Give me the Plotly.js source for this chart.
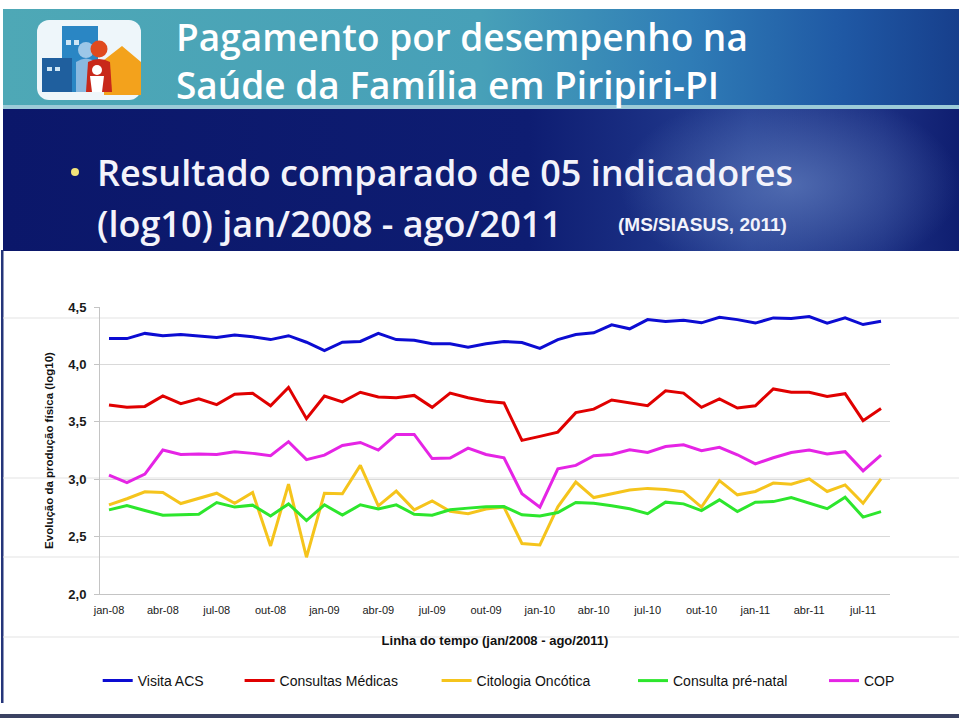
<!DOCTYPE html>
<html><head><meta charset="utf-8">
<script src="https://cdn.plot.ly/plotly-3.0.1.min.js"></script>
<style>
html,body{margin:0;padding:0;background:#fff;}
#wrap{position:relative;width:959px;height:718px;overflow:hidden;background:#fff;}
#bg{position:absolute;left:0;top:0;}
#chart{position:absolute;left:0;top:0;width:959px;height:718px;}
</style></head><body>
<div id="wrap">
<svg id="bg" width="959" height="718" xmlns="http://www.w3.org/2000/svg">
 <defs>
  <linearGradient id="gTop" x1="0" x2="1" y1="0" y2="0">
   <stop offset="0" stop-color="#4ea8b6"/>
   <stop offset="0.5" stop-color="#47a0b8"/>
   <stop offset="0.72" stop-color="#2f7cb6"/>
   <stop offset="0.88" stop-color="#1f58a4"/>
   <stop offset="1" stop-color="#173f8c"/>
  </linearGradient>
  <linearGradient id="gNavy" x1="0" x2="1" y1="0" y2="0">
   <stop offset="0" stop-color="#0b176a"/>
   <stop offset="0.55" stop-color="#0e1d72"/>
   <stop offset="0.78" stop-color="#253f92"/>
   <stop offset="0.92" stop-color="#1b2f82"/>
   <stop offset="1" stop-color="#0f1e70"/>
  </linearGradient>
  <radialGradient id="glow" cx="0.5" cy="0.5" r="0.5">
   <stop offset="0" stop-color="#5a76b8" stop-opacity="0.8"/>
   <stop offset="1" stop-color="#5a76b8" stop-opacity="0"/>
  </radialGradient>
  <clipPath id="navyClip"><rect x="3" y="109" width="956" height="142"/></clipPath>
 </defs>
 <rect x="3" y="9" width="956" height="97" fill="url(#gTop)"/>
 <rect x="3" y="105" width="956" height="4" fill="#9ccbd8"/>
 <rect x="3" y="109" width="956" height="142" fill="url(#gNavy)"/>
 <g clip-path="url(#navyClip)">
  <ellipse cx="790" cy="185" rx="170" ry="95" fill="url(#glow)"/>
 </g>
 <rect x="1" y="250" width="2.5" height="453" fill="#25357a"/>
 <rect x="0" y="714" width="959" height="4" fill="#3b4262"/>
 <!-- logo -->
 <rect x="37" y="20" width="104" height="80" rx="12" fill="#eef6fa"/>
 <rect x="62" y="26" width="36" height="66" fill="#2a86c4"/>
 <rect x="42" y="58" width="30" height="34" fill="#1f5f9e"/>
 <rect x="66" y="40" width="5" height="5" fill="#cfe6f5"/><rect x="74" y="40" width="5" height="5" fill="#cfe6f5"/>
 <rect x="47" y="67" width="5" height="4" fill="#cfe6f5"/><rect x="55" y="67" width="5" height="4" fill="#cfe6f5"/>
 <circle cx="86" cy="50" r="8" fill="#9cc7e8"/>
 <path d="M76 62 Q86 55 96 62 L96 92 L76 92 Z" fill="#8ab9e0"/>
 <path d="M104 60 L122 46 L141 62 L141 95 L104 95 Z" fill="#f3a21c"/>
 <circle cx="99" cy="49" r="8.5" fill="#e04a1e"/>
 <path d="M88 62 Q99 56 110 62 L112 92 L86 92 Z" fill="#c8281a"/>
 <circle cx="97" cy="70" r="5" fill="#ffffff"/>
 <path d="M90 76 L104 76 L102 92 L92 92 Z" fill="#ffffff"/>
</svg>
<div id="chart"></div>
</div>
<script>
const months = ['jan-08','fev-08','mar-08','abr-08','mai-08','jun-08','jul-08','ago-08','set-08','out-08','nov-08','dez-08',
 'jan-09','fev-09','mar-09','abr-09','mai-09','jun-09','jul-09','ago-09','set-09','out-09','nov-09','dez-09',
 'jan-10','fev-10','mar-10','abr-10','mai-10','jun-10','jul-10','ago-10','set-10','out-10','nov-10','dez-10',
 'jan-11','fev-11','mar-11','abr-11','mai-11','jun-11','jul-11','ago-11'];
const tickLabels = ['jan-08','abr-08','jul-08','out-08','jan-09','abr-09','jul-09','out-09','jan-10','abr-10','jul-10','out-10','jan-11','abr-11','jul-11'];
const tickBoundaries = [2.5,5.5,8.5,11.5,14.5,17.5,20.5,23.5,26.5,29.5,32.5,35.5,38.5,41.5];

const visitaACS = [4.225,4.225,4.27,4.25,4.26,4.25,4.234,4.257,4.24,4.216,4.25,
 4.193,4.12,4.193,4.20,4.27,4.216,4.21,4.18,4.18,4.15,4.18,
 4.20,4.19,4.14,4.216,4.26,4.275,4.345,4.31,4.39,4.373,4.385,
 4.362,4.41,4.39,4.36,4.405,4.40,4.417,4.36,4.405,4.347,4.376];
const consultasMedicas = [3.647,3.626,3.634,3.725,3.658,3.70,3.65,3.74,3.748,3.64,3.80,
 3.527,3.725,3.673,3.757,3.716,3.71,3.73,3.626,3.75,3.71,3.68,
 3.664,3.338,3.373,3.41,3.58,3.61,3.69,3.664,3.64,3.77,3.75,
 3.626,3.70,3.62,3.64,3.786,3.757,3.757,3.72,3.745,3.51,3.615];
const citologiaOncotica = [2.777,2.83,2.89,2.884,2.788,2.835,2.878,2.79,2.884,2.419,2.957,
 2.32,2.878,2.873,3.12,2.768,2.896,2.733,2.81,2.72,2.70,2.74,
 2.757,2.44,2.427,2.76,2.975,2.84,2.873,2.905,2.92,2.91,2.89,
 2.757,2.987,2.864,2.893,2.966,2.957,3.003,2.893,2.95,2.79,3.003];
const consultaPreNatal = [2.733,2.77,2.727,2.687,2.69,2.695,2.797,2.757,2.774,2.68,2.785,
 2.64,2.777,2.687,2.777,2.74,2.777,2.695,2.687,2.733,2.748,2.76,
 2.762,2.69,2.68,2.71,2.797,2.79,2.768,2.742,2.70,2.80,2.785,
 2.727,2.82,2.718,2.80,2.805,2.84,2.79,2.743,2.843,2.67,2.718];
const cop = [3.036,2.97,3.044,3.254,3.215,3.22,3.215,3.24,3.225,3.205,3.327,
 3.17,3.21,3.294,3.32,3.254,3.39,3.39,3.18,3.184,3.27,3.215,
 3.187,2.873,2.757,3.09,3.12,3.204,3.215,3.256,3.233,3.285,3.30,
 3.248,3.277,3.213,3.134,3.187,3.233,3.254,3.22,3.24,3.073,3.21];

const seriesNames = ['Visita ACS','Consultas Médicas','Citologia Oncótica','Consulta pré-natal','COP'];
const seriesValues = [visitaACS, consultasMedicas, citologiaOncotica, consultaPreNatal, cop];
const seriesColors = ['#0c0cd2','#e00000','#f5c41c','#2de62d','#e524e5'];

// layout geometry (pixels)
const W = 959, H = 718, mL = 100, mR = 69, mT = 307, mB = 124;
const pw = W - mL - mR, ph = H - mT - mB;
const px = v => (v - mL) / pw;
const py = v => (H - mB - v) / ph;

const legendStarts = [97.7, 239.6, 436.6, 633, 824];
const traces = seriesNames.map((n, i) => ({
  type: 'scatter', mode: 'lines', name: n, x: months, y: seriesValues[i],
  line: {color: seriesColors[i], width: 3},
  legend: i === 0 ? 'legend' : 'legend' + (i + 1),
  hoverinfo: 'x+y+name'
}));

const legendBase = i => ({
  orientation: 'h', x: px(legendStarts[i]), xanchor: 'left', y: py(681), yanchor: 'middle',
  bgcolor: 'rgba(0,0,0,0)', borderwidth: 0,
  font: {family: 'Liberation Sans, Arial, sans-serif', size: 14, color: '#111'}
});

const tfont = {family: 'Open Sans, Noto Sans, sans-serif', size: 37, color: '#ffffff', weight: 600};
const sfont = {family: 'Open Sans, Noto Sans, sans-serif', size: 36, color: '#f3f3fb', weight: 600};

const annotations = [
  {text: 'Pagamento por desempenho na<br>Saúde da Família em Piripiri-PI', x: px(174), y: py(60), xref: 'paper', yref: 'paper',
   xanchor: 'left', yanchor: 'middle', align: 'left', showarrow: false, font: tfont},
  {text: 'Resultado comparado de 05 indicadores', x: px(95), y: py(172), xref: 'paper', yref: 'paper', xanchor: 'left', yanchor: 'middle', showarrow: false, font: sfont},
  {text: '(log10) jan/2008 - ago/2011', x: px(95), y: py(223), xref: 'paper', yref: 'paper', xanchor: 'left', yanchor: 'middle', showarrow: false, font: sfont},
  {text: '(MS/SIASUS, 2011)', x: px(616), y: py(224), xref: 'paper', yref: 'paper', xanchor: 'left', yanchor: 'middle', showarrow: false,
   font: {family: 'Liberation Sans Narrow, Liberation Sans, Arial, sans-serif', size: 19, color: '#f3f3fb', weight: 700}}
];

const faint = [318, 478, 557, 637].map(v => ({
  type: 'line', xref: 'paper', yref: 'paper', x0: px(3), x1: px(959), y0: py(v), y1: py(v),
  line: {color: '#e3e3e3', width: 1}, layer: 'below'
}));
const shapes = faint.concat([
  {type: 'circle', xref: 'paper', yref: 'paper', x0: px(71), x1: px(79), y0: py(176), y1: py(168),
   fillcolor: '#f2e37a', line: {width: 0}}
]);

const layout = {
  width: W, height: H,
  margin: {l: mL, r: mR, t: mT, b: mB, autoexpand: false},
  paper_bgcolor: 'rgba(0,0,0,0)', plot_bgcolor: '#ffffff',
  separators: ',.',
  showlegend: true,
  font: {family: 'Liberation Sans, Arial, sans-serif', color: '#111'},
  xaxis: {
    type: 'category', categoryorder: 'array', categoryarray: months,
    range: [-0.5, months.length - 0.5], tickmode: 'array', tickvals: tickLabels, ticktext: tickLabels,
    ticks: '', showgrid: false, zeroline: false, showline: true, linecolor: '#c4c4c4', linewidth: 1,
    tickfont: {family: 'Liberation Sans, Arial, sans-serif', size: 11, color: '#1a1a1a'},
    ticklabelstandoff: 6, automargin: false,
    title: {text: 'Linha do tempo (jan/2008 - ago/2011)', standoff: 20,
      font: {family: 'Liberation Sans, Arial, sans-serif', size: 13, color: '#111', weight: 700}}
  },
  xaxis2: {
    overlaying: 'x', anchor: 'y', side: 'bottom', type: 'linear',
    range: [-0.5, months.length - 0.5], tickmode: 'array', tickvals: tickBoundaries,
    showticklabels: false, ticks: 'outside', ticklen: 4, tickcolor: '#c4c4c4', tickwidth: 1,
    showgrid: false, zeroline: false, showline: false
  },
  yaxis: {
    range: [2, 4.5], tick0: 2, dtick: 0.5, tickformat: '.1f',
    showgrid: true, gridcolor: '#d9d9d9', gridwidth: 1.2, zeroline: false,
    showline: true, linecolor: '#c4c4c4', linewidth: 1,
    ticks: 'outside', ticklen: 5, tickcolor: '#c4c4c4',
    tickfont: {family: 'Liberation Sans, Arial, sans-serif', size: 13, color: '#1a1a1a', weight: 700},
    ticklabelstandoff: 5, automargin: false,
    title: {text: 'Evolução da produção física (log10)', standoff: 12,
      font: {family: 'Liberation Sans, Arial, sans-serif', size: 11.5, color: '#111', weight: 700}}
  },
  legend: legendBase(0), legend2: legendBase(1), legend3: legendBase(2), legend4: legendBase(3), legend5: legendBase(4),
  annotations: annotations,
  shapes: shapes
};

Plotly.newPlot('chart', traces, layout, {displayModeBar: false, staticPlot: true});
</script>
</body></html>
